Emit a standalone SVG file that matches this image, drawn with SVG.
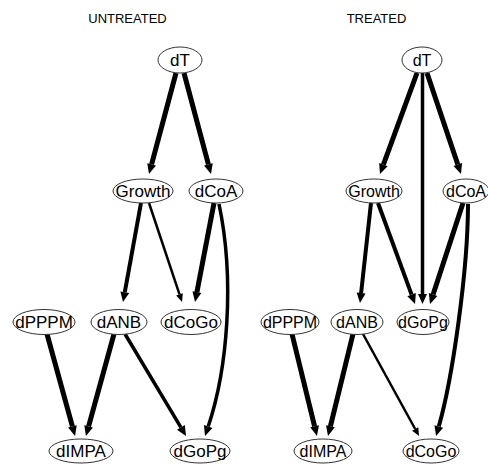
<svg xmlns="http://www.w3.org/2000/svg" width="488" height="466" viewBox="0 0 488 466">
<style>
.title{font-family:"Liberation Sans",Arial,sans-serif;font-size:13px;fill:#000;text-anchor:middle}
.node ellipse{fill:#fff;stroke:#333;stroke-width:1}
.node text{font-family:"Liberation Sans",Arial,sans-serif;fill:#000;text-anchor:middle}
.l text{font-size:17px}
.r text{font-size:16px}
.e{fill:none;stroke:#000;stroke-linecap:butt}
.w5{stroke-width:5;marker-end:url(#ah)}
.w4{stroke-width:4;marker-end:url(#ah)}
.w35{stroke-width:3.5;marker-end:url(#ah)}
.w25{stroke-width:2.5;marker-end:url(#as)}
</style>
<defs>
<marker id="ah" markerUnits="userSpaceOnUse" viewBox="0 -5 10 10" refX="0" refY="0" markerWidth="10" markerHeight="10" orient="auto" overflow="visible">
<path d="M0,-4.5 L10,0 L0,4.5 z" fill="#000"/>
</marker>
<marker id="as" markerUnits="userSpaceOnUse" viewBox="0 -4 8 8" refX="0" refY="0" markerWidth="8" markerHeight="8" orient="auto" overflow="visible">
<path d="M0,-3.5 L8,0 L0,3.5 z" fill="#000"/>
</marker>
</defs>
<rect width="488" height="466" fill="#fff"/>
<text class="title" x="127.5" y="23">UNTREATED</text>
<text class="title" x="376.5" y="23">TREATED</text>

<g id="connectors">
<!-- untreated -->
<path class="e w5" d="M176,73 L151.6,164.3"/>
<path class="e w5" d="M184,73 L208.4,164.3"/>
<path class="e w4" d="M141,203 L124.8,292.2"/>
<path class="e w25" d="M149,203 L179.5,294.4"/>
<path class="e w5" d="M214,203 L196.9,292.2"/>
<path class="e w35" d="M219,204 C235,280 227.4,369.7 208.2,426.5"/>
<path class="e w5" d="M47,334 L72.4,426.4"/>
<path class="e w5" d="M114,334 L88.6,426.4"/>
<path class="e w35" d="M125,334 L180.9,427.4"/>
<!-- treated -->
<path class="e w5" d="M417,73 L383.4,164.6"/>
<path class="e w5" d="M427,73 L457.8,164.5"/>
<path class="e w35" d="M422.5,73 L422.5,294"/>
<path class="e w4" d="M371,203 L361.1,293.1"/>
<path class="e w4" d="M378,203 L411.6,294.6"/>
<path class="e w5" d="M463,203 L433.1,294.5"/>
<path class="e w4" d="M468,204 C468,270 452.5,378.3 438.8,426.4"/>
<path class="e w5" d="M292,334 L314.6,426.3"/>
<path class="e w5" d="M353,334 L330.4,426.3"/>
<path class="e w25" d="M363,334 L415.2,429"/>
</g>

<g id="u_dT" class="node l"><ellipse cx="180" cy="60" rx="22" ry="13"/><text x="180" y="66">dT</text></g>
<g id="u_Growth" class="node l"><ellipse cx="143" cy="191" rx="30" ry="12"/><text x="143" y="197">Growth</text></g>
<g id="u_dCoA" class="node l"><ellipse cx="216" cy="191" rx="27" ry="12"/><text x="216" y="197">dCoA</text></g>
<g id="u_dPPPM" class="node l"><ellipse cx="44" cy="322" rx="31" ry="12.5"/><text x="44" y="328">dPPPM</text></g>
<g id="u_dANB" class="node l"><ellipse cx="119" cy="322" rx="28" ry="12.5"/><text x="119" y="328">dANB</text></g>
<g id="u_dCoGo" class="node l"><ellipse cx="191" cy="322" rx="30" ry="12.5"/><text x="191" y="328">dCoGo</text></g>
<g id="u_dIMPA" class="node l"><ellipse cx="81" cy="451" rx="32" ry="12"/><text x="81" y="457">dIMPA</text></g>
<g id="u_dGoPg" class="node l"><ellipse cx="200" cy="451" rx="30" ry="12"/><text x="200" y="457">dGoPg</text></g>

<g id="t_dT" class="node r"><ellipse cx="422" cy="60" rx="20" ry="13"/><text x="422" y="65.5">dT</text></g>
<g id="t_Growth" class="node r"><ellipse cx="374" cy="191" rx="28" ry="12"/><text x="374" y="196.5">Growth</text></g>
<g id="t_dCoA" class="node r"><ellipse cx="466" cy="191" rx="23" ry="12"/><text x="466" y="196.5">dCoA</text></g>
<g id="t_dPPPM" class="node r"><ellipse cx="290" cy="322" rx="29" ry="12.5"/><text x="290" y="327.5">dPPPM</text></g>
<g id="t_dANB" class="node r"><ellipse cx="357" cy="322" rx="26" ry="12.5"/><text x="357" y="327.5">dANB</text></g>
<g id="t_dGoPg" class="node r"><ellipse cx="423" cy="322" rx="26" ry="12.5"/><text x="423" y="327.5">dGoPg</text></g>
<g id="t_dIMPA" class="node r"><ellipse cx="323" cy="451" rx="29" ry="12"/><text x="323" y="456.5">dIMPA</text></g>
<g id="t_dCoGo" class="node r"><ellipse cx="431" cy="451" rx="28" ry="12"/><text x="431" y="456.5">dCoGo</text></g>
</svg>
